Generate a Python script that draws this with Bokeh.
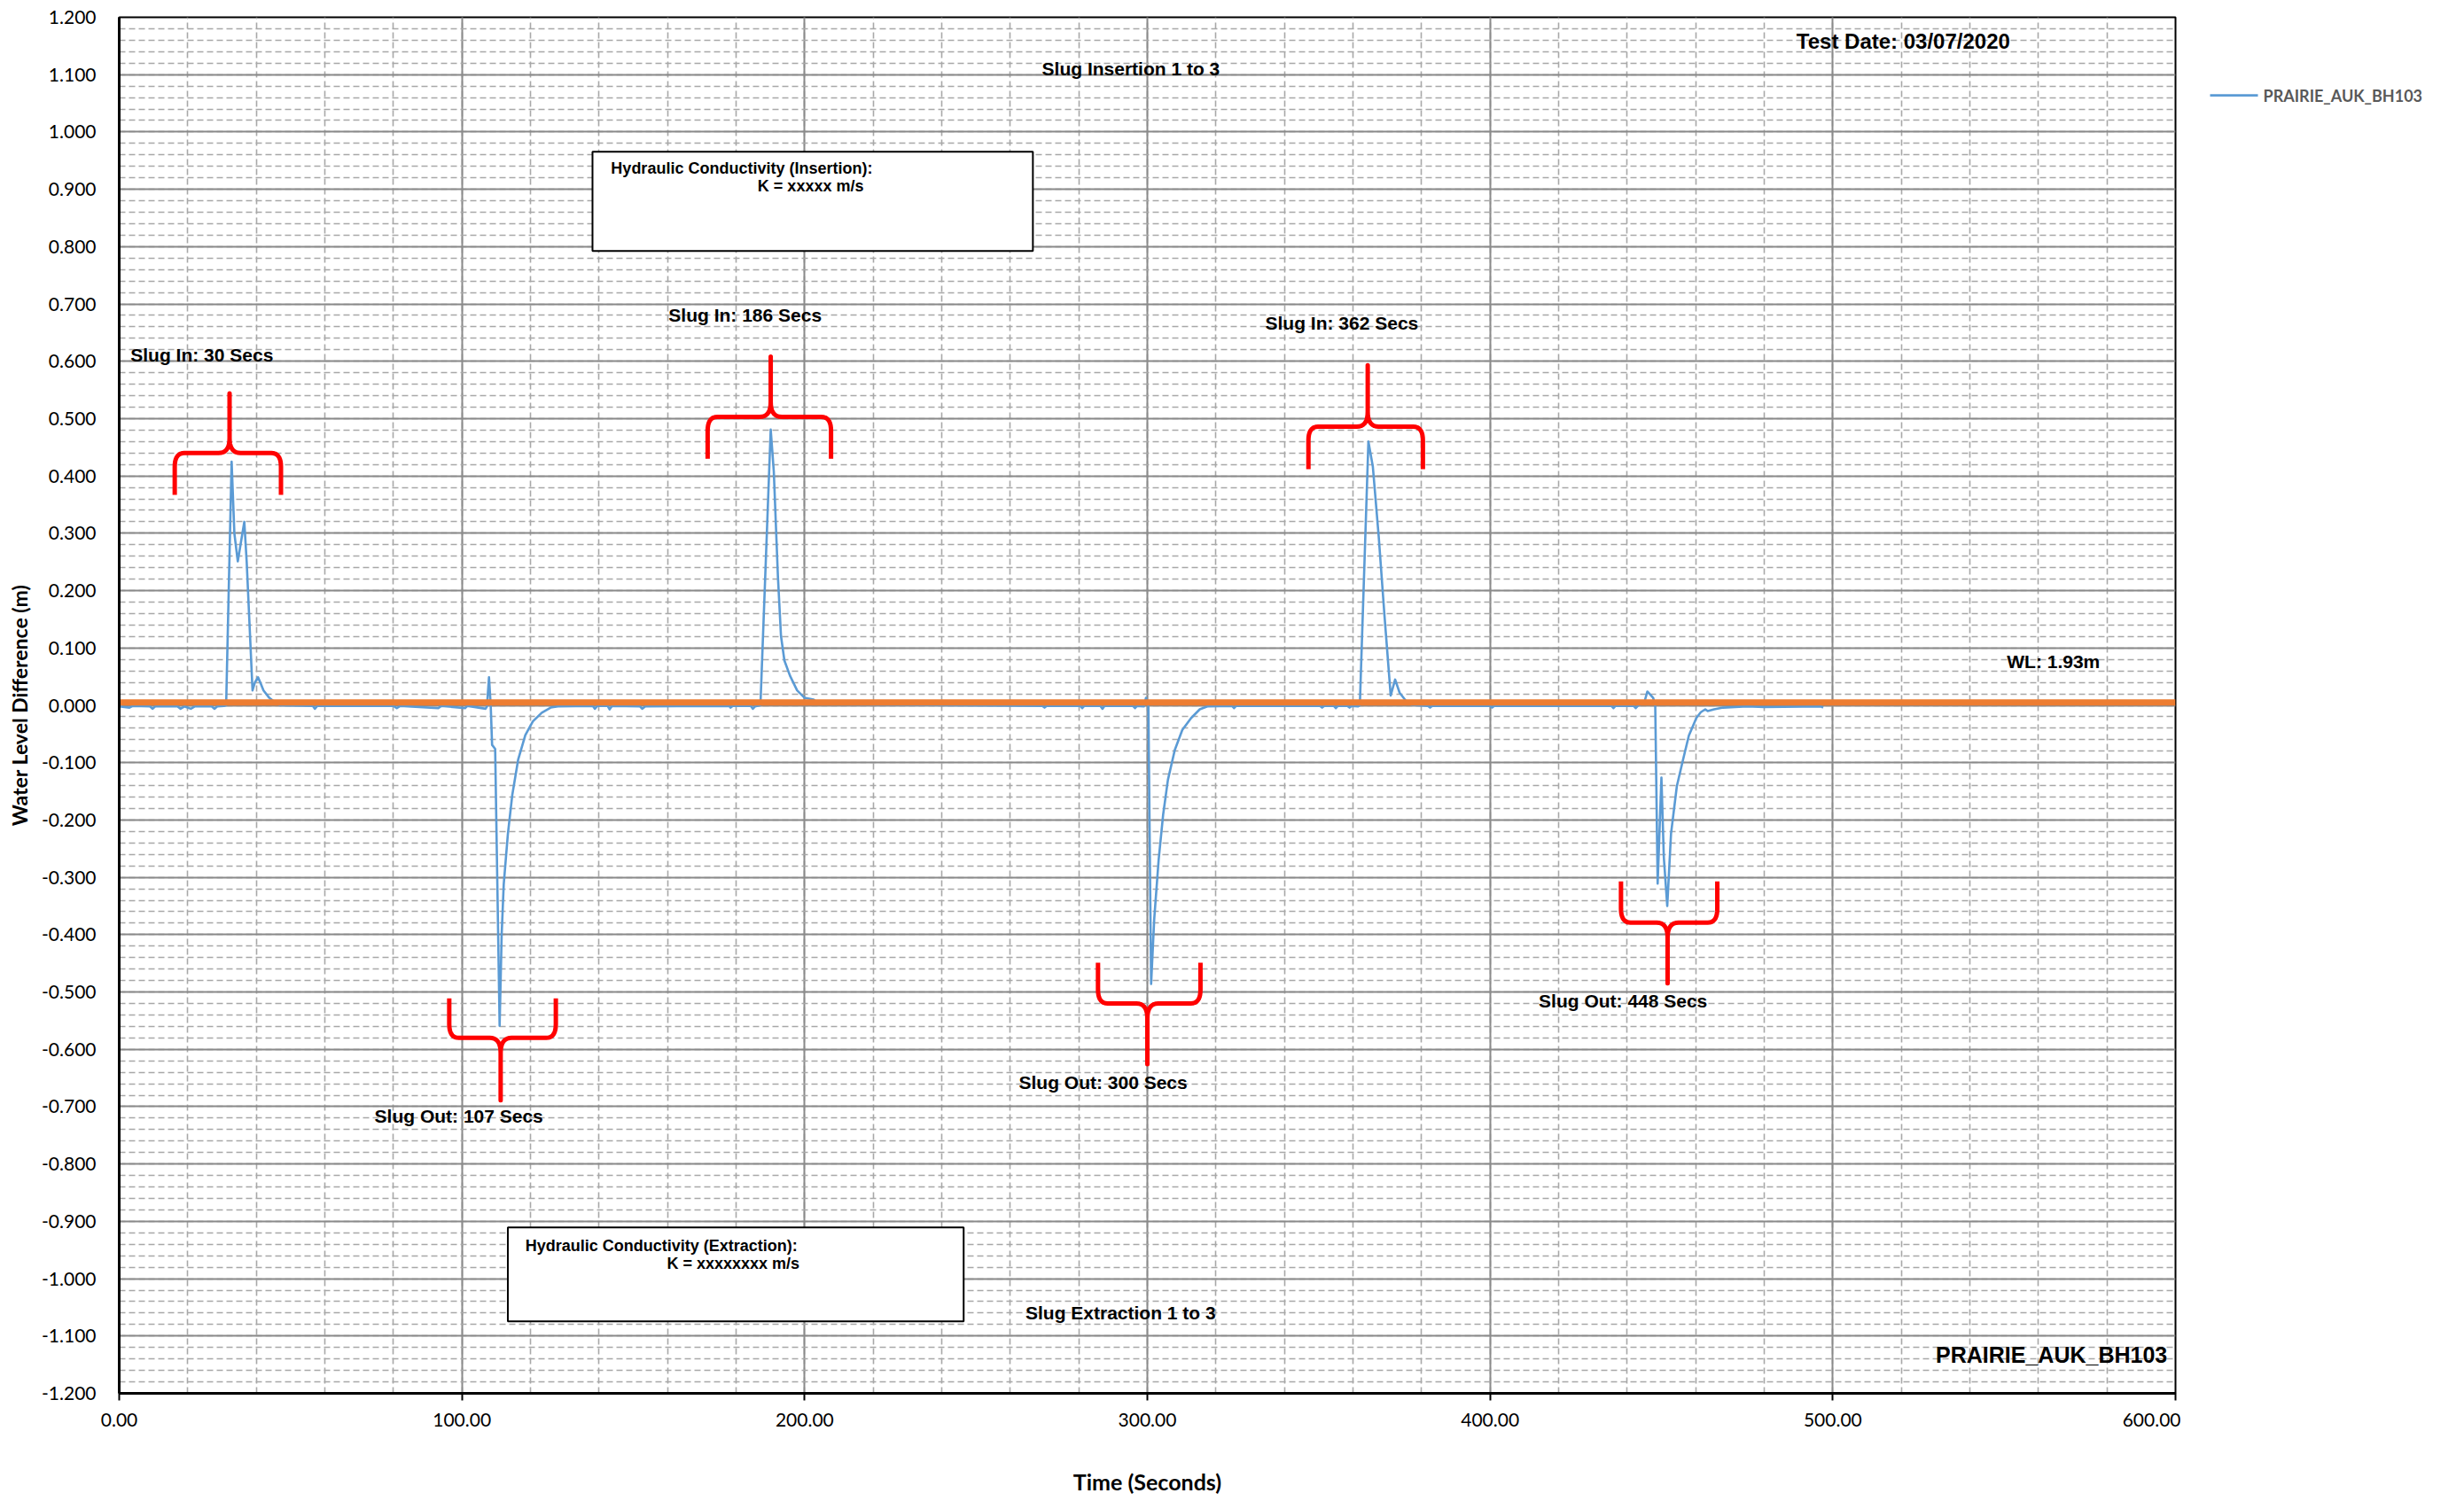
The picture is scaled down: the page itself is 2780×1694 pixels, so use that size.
import numpy as np
from bokeh.plotting import figure
from bokeh.layouts import row
from bokeh.models import Range1d, FixedTicker, NumeralTickFormatter
from bokeh.core.properties import value
from bokeh.embed import file_html
from bokeh.resources import INLINE

# ---------------- data ----------------
time_s = [0.0, 3.0, 4.0, 9.0, 9.7, 10.5, 17.0, 17.9, 19.0, 20.9, 22.0, 27.0, 27.8, 28.6, 30.6,
          31.2, 32.8, 33.6, 34.6, 35.4, 36.5, 37.2, 38.9, 39.6, 40.5, 41.3, 42.1, 43.8, 45.5, 47.0,
          56.5, 57.1, 57.8, 80.0, 81.0, 82.0, 93.1, 94.0, 100.9, 101.6, 106.9, 107.3,
          107.9, 108.4, 108.8, 109.7, 111.0, 111.6, 112.2, 113.4, 114.7, 116.4, 118.5, 120.7,
          123.3, 125.9, 128.0, 138.2, 138.8, 139.5, 142.5, 143.1, 143.8, 152.0, 152.6, 153.5,
          178.0, 178.4, 179.0, 184.3, 184.9, 185.5,
          187.1, 190.1, 191.0, 192.2, 193.1, 194.1, 195.7, 197.8, 200.0, 202.6, 204.0,
          269.4, 270.0, 270.6, 280.4, 281.0, 281.6, 286.3, 286.9, 287.5, 295.8, 296.4, 297.0,
          299.0, 299.6, 300.0, 300.3, 301.1, 302.0, 303.3, 304.6, 306.0, 308.0, 310.2, 312.8,
          315.3, 317.5, 324.7, 325.3, 325.9, 350.4, 351.0, 351.6, 354.4, 355.0, 355.6,
          358.4, 359.0, 359.6, 361.5,
          362.0, 364.5, 365.8, 367.5, 369.2, 371.0, 372.3, 373.6, 375.3, 377.0,
          381.9, 382.5, 383.1, 400.0, 400.6, 401.2, 435.4, 436.0, 436.6, 441.9, 442.5, 443.1,
          445.0, 445.9, 447.6, 448.2, 448.9, 450.0, 450.7, 451.7, 452.8, 454.5, 456.3, 458.0,
          460.2, 461.5, 462.8, 463.5, 465.4, 468.0, 475.0, 480.0, 496.6, 497.2]
level_m = [-0.002, -0.004, -0.001, -0.002, -0.006, -0.002, -0.002, -0.006, -0.002, -0.006, -0.002, -0.002, -0.006, -0.002, -0.001,
           0.0, 0.425, 0.300, 0.251, 0.280, 0.320, 0.250, 0.026, 0.040, 0.049, 0.038, 0.026, 0.013, 0.005, 0.0,
           -0.001, -0.006, -0.001, -0.001, -0.005, -0.001, -0.005, -0.001, -0.005, -0.001, -0.006, -0.002,
           0.049, 0.0, -0.069, -0.076, -0.559, -0.399, -0.312, -0.225, -0.156, -0.095, -0.052, -0.028,
           -0.013, -0.004, -0.002, -0.001, -0.006, -0.001, -0.001, -0.007, -0.001, -0.002, -0.006, -0.002,
           -0.001, -0.004, -0.001, -0.001, -0.006, -0.002,
           0.0, 0.481, 0.408, 0.225, 0.121, 0.078, 0.052, 0.026, 0.013, 0.010, 0.002,
           -0.001, -0.004, -0.001, -0.001, -0.005, -0.001, -0.001, -0.006, -0.001, -0.001, -0.005, -0.001,
           -0.002, 0.013, 0.005, 0.0, -0.486, -0.373, -0.269, -0.191, -0.130, -0.078, -0.043, -0.022,
           -0.007, -0.002, -0.001, -0.005, -0.001, -0.001, -0.004, -0.001, -0.001, -0.005, -0.001,
           -0.001, -0.004, -0.001, -0.002,
           0.0, 0.460, 0.416, 0.295, 0.156, 0.017, 0.045, 0.022, 0.009, 0.001,
           -0.001, -0.004, -0.001, -0.001, -0.004, -0.001, -0.001, -0.005, -0.001, -0.001, -0.005, -0.001,
           0.005, 0.024, 0.013, -0.002, -0.311, -0.126, -0.265, -0.350, -0.224, -0.141, -0.095, -0.053,
           -0.022, -0.012, -0.007, -0.010, -0.007, -0.004, -0.002, -0.003, -0.002, -0.004]

wl_time = [0.0, 600.0]
wl_level = [0.005, 0.005]

x_ticks = [0, 100, 200, 300, 400, 500, 600]
x_minor_ticks = [round(20.0 * i, 1) for i in range(31)]
y_ticks = [-1.2, -1.1, -1.0, -0.9, -0.8, -0.7, -0.6, -0.5, -0.4, -0.3, -0.2, -0.1, 0.0,
           0.1, 0.2, 0.3, 0.4, 0.5, 0.6, 0.7, 0.8, 0.9, 1.0, 1.1, 1.2]
y_minor_ticks = [round(-1.2 + 0.02 * i, 2) for i in range(121)]

# slug braces (annotation shapes)
brace_center = [32.2, 111.3, 190.1, 300.0, 364.3, 451.8]
brace_left = [16.2, 96.3, 171.7, 285.6, 347.0, 438.2]
brace_right = [47.2, 127.4, 207.7, 315.5, 380.4, 466.3]
brace_tip = [0.367, -0.511, 0.430, -0.449, 0.412, -0.307]
brace_bar = [0.440, -0.580, 0.503, -0.520, 0.486, -0.379]
brace_point = [0.544, -0.689, 0.608, -0.626, 0.593, -0.485]

slug_text = ["Slug In: 30 Secs", "Slug In: 186 Secs", "Slug In: 362 Secs",
             "Slug Out: 107 Secs", "Slug Out: 300 Secs", "Slug Out: 448 Secs"]
slug_x = [3.3, 160.3, 334.4, 74.5, 262.5, 414.2]
slug_y = [0.611, 0.681, 0.667, -0.716, -0.658, -0.515]

heading_text = ["Slug Insertion 1 to 3", "Slug Extraction 1 to 3"]
heading_x = [295.2, 292.2]
heading_y = [1.110, -1.060]

box_left = [138.1, 113.4]
box_right = [266.6, 246.4]
box_top = [0.9656, -0.9105]
box_bottom = [0.7925, -1.0743]
box_line1 = ["Hydraulic Conductivity (Insertion):", "Hydraulic Conductivity (Extraction):"]
box_line1_x = [143.5, 118.5]
box_line1_y = [0.936, -0.942]
box_line2 = ["K = xxxxx m/s", "K = xxxxxxxx m/s"]
box_line2_x = [186.3, 159.8]
box_line2_y = [0.905, -0.973]

series_name = "PRAIRIE_AUK_BH103"

# ---------------- main figure ----------------
H = 1692
FL, FT, FR, FB = 134, 19, 2454, 1572   # frame edges in page pixels
PW = FR + 6
p = figure(width=PW, height=H, output_backend="svg", toolbar_location=None,
           x_range=Range1d(0, 600), y_range=Range1d(-1.2, 1.2),
           min_border_left=FL, min_border_right=PW - FR, min_border_top=FT,
           min_border_bottom=H - FB)
p.background_fill_color = "white"
p.border_fill_color = "white"
p.outline_line_color = "black"
p.outline_line_width = 2

xt = FixedTicker(ticks=x_ticks, minor_ticks=x_minor_ticks)
yt = FixedTicker(ticks=y_ticks, minor_ticks=y_minor_ticks)
p.xaxis.ticker = xt
p.yaxis.ticker = yt
p.xgrid.ticker = xt
p.ygrid.ticker = yt
for g in (p.xgrid, p.ygrid):
    g.grid_line_color = "#8a8a8a"
    g.grid_line_width = 2
    g.minor_grid_line_color = "#a8a8a8"
    g.minor_grid_line_width = 1.6
    g.minor_grid_line_dash = "7 4"

p.xaxis.formatter = NumeralTickFormatter(format="0.00")
p.yaxis.formatter = NumeralTickFormatter(format="0.000")
for ax in (p.xaxis, p.yaxis):
    ax.axis_line_color = "black"
    ax.axis_line_width = 3
    ax.major_label_text_font = "Lato"
    ax.major_label_text_font_size = "21px"
    ax.major_label_text_color = "black"
    ax.axis_label_text_font = "Lato"
    ax.axis_label_text_font_style = "bold"
    ax.axis_label_text_color = "black"
    ax.minor_tick_line_color = None
p.xaxis.axis_label_text_font_size = "25px"
p.yaxis.axis_label_text_font_size = "23px"
p.xaxis.major_tick_out = 8
p.xaxis.major_tick_in = 0
p.xaxis.major_tick_line_color = "black"
p.xaxis.major_tick_line_width = 2
p.xaxis.major_label_standoff = 14
p.xaxis.axis_label = "Time (Seconds)"
p.xaxis.axis_label_standoff = 44
p.yaxis.major_tick_out = 0
p.yaxis.major_tick_in = 0
p.yaxis.major_label_standoff = 22
p.yaxis.axis_label = "Water Level Difference (m)"
p.yaxis.axis_label_standoff = 8

# text boxes
p.quad(left=box_left, right=box_right, top=box_top, bottom=box_bottom,
       fill_color="white", line_color="black", line_width=2)

# data line and water level
p.line(time_s, level_m, line_color="#5B9BD5", line_width=2.6, line_join="round")
p.line(wl_time, wl_level, line_color="#ED7D31", line_width=7)


def quad_pts(p0, p1, p2, n=10):
    t = np.linspace(0, 1, n)
    xs = (1 - t) ** 2 * p0[0] + 2 * (1 - t) * t * p1[0] + t ** 2 * p2[0]
    ys = (1 - t) ** 2 * p0[1] + 2 * (1 - t) * t * p1[1] + t ** 2 * p2[1]
    return list(xs), list(ys)


def brace_path(xl, xr, xc, ytip, ybar, ypt, rx=2.8, ry=0.024, cx=3.2, cy=0.026):
    s = 1 if ypt > ybar else -1
    xs, ys = [xl, xl], [ytip, ybar - s * ry]
    a, b = quad_pts((xl, ybar - s * ry), (xl, ybar), (xl + rx, ybar))
    xs += a; ys += b
    a, b = quad_pts((xc - cx, ybar), (xc, ybar), (xc, ybar + s * cy))
    xs += a; ys += b
    xs += [xc, xc]; ys += [ypt, ybar + s * cy]
    a, b = quad_pts((xc, ybar + s * cy), (xc, ybar), (xc + cx, ybar))
    xs += a; ys += b
    a, b = quad_pts((xr - rx, ybar), (xr, ybar), (xr, ybar - s * ry))
    xs += a; ys += b
    xs += [xr]; ys += [ytip]
    return xs, ys


bx, by = [], []
for i in range(len(brace_center)):
    a, b = brace_path(brace_left[i], brace_right[i], brace_center[i],
                      brace_tip[i], brace_bar[i], brace_point[i])
    bx.append(a); by.append(b)
p.multi_line(bx, by, line_color="#FF0000", line_width=5, line_join="round", line_cap="butt")

ann_font = value("Liberation Sans")
p.text(x=slug_x, y=slug_y, text=slug_text, text_font=ann_font, text_font_style="bold",
       text_font_size="21px", text_align="left", text_baseline="alphabetic", text_color="black")
p.text(x=heading_x, y=heading_y, text=heading_text, text_font=ann_font, text_font_style="bold",
       text_font_size="21px", text_align="center", text_baseline="alphabetic", text_color="black")
p.text(x=box_line1_x, y=box_line1_y, text=box_line1, text_font=ann_font, text_font_style="bold",
       text_font_size="18px", text_align="left", text_baseline="alphabetic", text_color="black")
p.text(x=box_line2_x, y=box_line2_y, text=box_line2, text_font=ann_font, text_font_style="bold",
       text_font_size="18px", text_align="left", text_baseline="alphabetic", text_color="black")
p.text(x=[489.4], y=[1.158], text=["Test Date: 03/07/2020"], text_font=ann_font, text_font_style="bold",
       text_font_size="24px", text_align="left", text_baseline="alphabetic", text_color="black")
p.text(x=[550.8], y=[0.077], text=["WL: 1.93m"], text_font=ann_font, text_font_style="bold",
       text_font_size="21px", text_align="left", text_baseline="alphabetic", text_color="black")
p.text(x=[597.6], y=[-1.133], text=[series_name], text_font=ann_font, text_font_style="bold",
       text_font_size="25px", text_align="right", text_baseline="alphabetic", text_color="black")

# ---------------- legend panel (separate figure to the right, pixel units) ----------------
LW = 316
legend_key_x = [33, 87]      # key line span inside the panel (px)
legend_key_y = [96, 96]      # key line height from the top (px)
legend_label_x = [93]
legend_label_y = [96]
q = figure(width=LW, height=H, output_backend="svg", toolbar_location=None,
           x_range=Range1d(0, LW), y_range=Range1d(H, 0),
           x_axis_location=None, y_axis_location=None, min_border=0)
q.outline_line_color = None
q.background_fill_color = "white"
q.border_fill_color = "white"
q.xgrid.visible = False
q.ygrid.visible = False
q.line(legend_key_x, legend_key_y, line_color="#5B9BD5", line_width=2.6)
q.text(x=legend_label_x, y=legend_label_y, text=[series_name], text_font=value("Lato"),
       text_font_style="bold", text_font_size="18px", text_color="#595959",
       text_align="left", text_baseline="middle")

layout = row(p, q, spacing=0)
open("out.html", "w").write(file_html(layout, INLINE))
